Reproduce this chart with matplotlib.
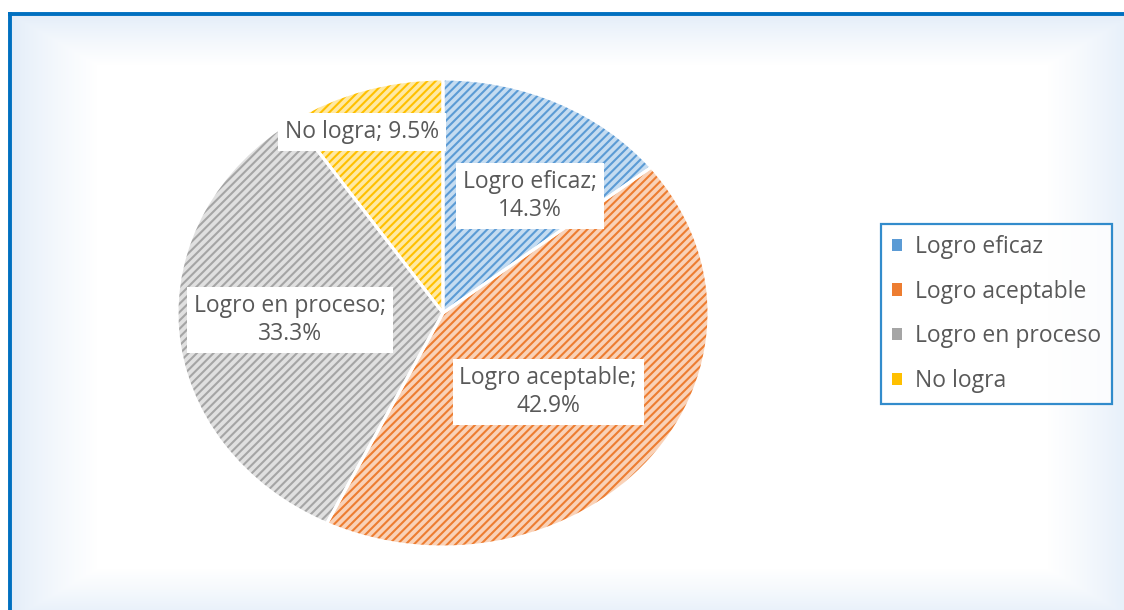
import numpy as np
import matplotlib.pyplot as plt
from matplotlib.patches import Patch

plt.rcParams["font.family"] = ["Open Sans", "DejaVu Sans"]
plt.rcParams["hatch.linewidth"] = 1.5

categories = ["Logro eficaz", "Logro aceptable", "Logro en proceso", "No logra"]
percents = [14.3, 42.9, 33.3, 9.5]
main_colors = ["#5B9BD5", "#ED7D31", "#A5A5A5", "#FFC000"]
tint_colors = ["#C5DCF1", "#F9D2B8", "#E0E0E0", "#FFE9A3"]
label_sep = ["\n", "\n", "\n", " "]
label_pos = [(0.327, 0.50), (0.395, -0.338), (-0.575, -0.03), (-0.305, 0.774)]

W, H = 1124, 610
fig = plt.figure(figsize=(W / 100, H / 100), dpi=100)

# background with soft blue edges
bg = fig.add_axes([0, 0, 1, 1])
xx, yy = np.meshgrid(np.arange(W), np.arange(H))
dx = np.minimum(xx - 12, 1132 - xx)
dy = np.minimum(yy - 15, 618 - yy)
f = np.clip(np.minimum(dx / 85.0, dy / 50.0), 0, 1) ** 0.8
edge = np.array([0.89, 0.93, 0.975])
img = edge[None, None, :] * (1 - f[..., None]) + f[..., None]
img[(xx < 12) | (yy < 15)] = 1.0
bg.imshow(img, extent=(0, W, H, 0), aspect="auto")
bg.plot([8, W], [13.5, 13.5], color="#0070C0", lw=2.8, solid_capstyle="butt")
bg.plot([10, 10], [12, H], color="#0070C0", lw=2.8, solid_capstyle="butt")
bg.set_xlim(0, W)
bg.set_ylim(H, 0)
bg.axis("off")

# pie
cx, cy, rx, ry = 443, 313, 266, 234
ax = fig.add_axes([(cx - rx) / W, (H - cy - ry) / H, 2 * rx / W, 2 * ry / H])
wedges, _ = ax.pie(percents, startangle=90, counterclock=False, colors=tint_colors,
                   wedgeprops=dict(linewidth=0))
for w, c in zip(wedges, main_colors):
    w.set_edgecolor(c)
    w.set_linewidth(0)
    w.set_hatch("////")
ax.pie(percents, startangle=90, counterclock=False, colors=["none"] * 4,
       wedgeprops=dict(edgecolor="white", linewidth=2.2))
ax.set_aspect("auto")
ax.set_xlim(-1, 1)
ax.set_ylim(-1, 1)

for name, p, sep, (x, y) in zip(categories, percents, label_sep, label_pos):
    ax.text(x, y, f"{name};{sep}{p}%", ha="center", va="center", fontsize=16.5,
            color="#595959", linespacing=1.2,
            bbox=dict(facecolor="white", edgecolor="none", pad=5))

handles = [Patch(facecolor=c, edgecolor="none") for c in main_colors]
leg = fig.legend(handles, categories, loc="center", bbox_to_anchor=(996.5 / W, (H - 314) / H),
                 frameon=True, fancybox=False, fontsize=16.5, labelcolor="#595959",
                 handlelength=0.45, handleheight=0.45, handletextpad=0.55,
                 labelspacing=0.9, borderpad=0.5, borderaxespad=0)
leg.get_frame().set_edgecolor("#0070C0")
leg.get_frame().set_linewidth(1.6)

fig.savefig("out.png", dpi=100)
